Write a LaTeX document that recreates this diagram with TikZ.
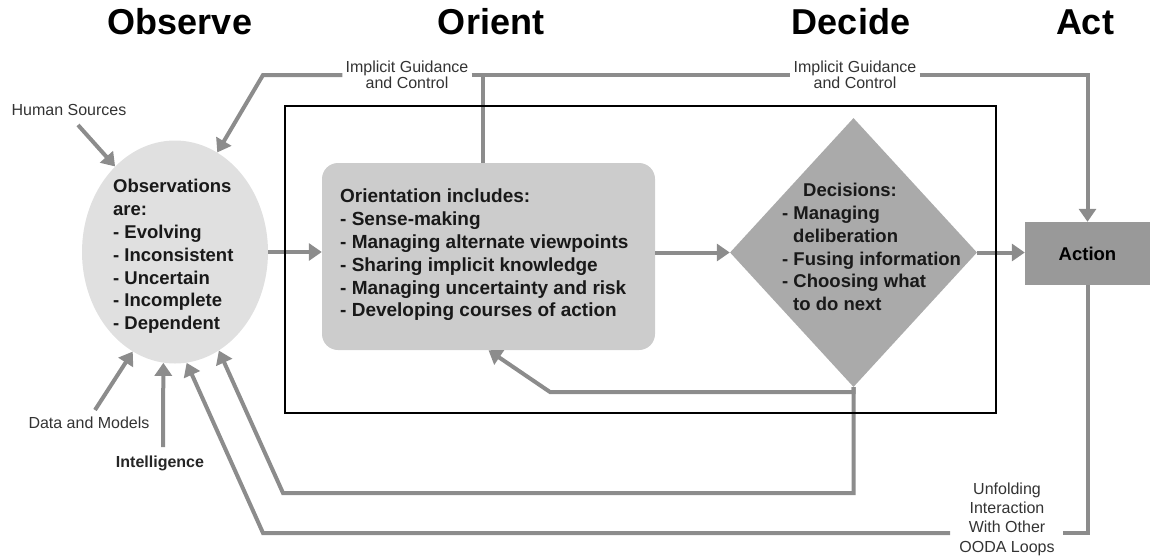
\documentclass[tikz,border=0pt]{standalone}
\usepackage{fontspec}
\setmainfont{Liberation Sans}
\usetikzlibrary{shapes.geometric,arrows.meta,calc}
\definecolor{arrgray}{HTML}{8C8C8C}
\definecolor{obsgray}{HTML}{E0E0E0}
\definecolor{origray}{HTML}{CCCCCC}
\definecolor{decgray}{HTML}{AAAAAA}
\definecolor{actgray}{HTML}{999999}
\definecolor{labgray}{HTML}{333333}
\tikzset{
  conn/.style={draw=arrgray, line width=4pt},
  arr/.style={conn, -{Triangle[length=13pt,width=17pt]}},
  title/.style={font=\bfseries\fontsize{36}{40}\selectfont, inner sep=0pt},
  small/.style={font=\fontsize{16}{16.5}\selectfont, text=labgray, align=center, inner sep=3pt},
  body/.style={font=\bfseries\fontsize{18.5}{22.8}\selectfont, align=left, inner sep=0pt, text=black!90},
}
\begin{document}
\begin{tikzpicture}[x=1pt,y=-1pt]
\useasboundingbox (0,0) rectangle (1154,558);

% titles
\node[title] (t1) at (180,22) {Observe};
\node[title] (t2) at (491,22) {Orient};
\node[title] (t3) at (851,22) {Decide};
\node[title] (t4) at (1085,22) {Act};

% main shapes
\node[ellipse, fill=obsgray, minimum width=186pt, minimum height=223pt, inner sep=0pt] (obs) at (175,252) {};
\node[rectangle, rounded corners=16pt, fill=origray, minimum width=333pt, minimum height=187pt, inner sep=0pt] (ori) at (488.5,256.5) {};
\node[diamond, fill=decgray, minimum width=247pt, minimum height=269pt, inner sep=0pt] (dec) at (853.5,252.5) {};
\node[rectangle, fill=actgray, minimum width=125pt, minimum height=63pt, inner sep=0pt,
      font=\bfseries\fontsize{18.5}{22}\selectfont] (act) at (1087.5,253.5) {Action};

% texts in shapes
\node[body, anchor=west] (obstxt) at (113,256.5) {Observations\\are:\\- Evolving\\- Inconsistent\\- Uncertain\\- Incomplete\\- Dependent};
\node[body, anchor=west, font=\bfseries\fontsize{19}{22.8}\selectfont] (oritxt) at (340,255) {Orientation includes:\\- Sense-making\\- Managing alternate viewpoints\\- Sharing implicit knowledge\\- Managing uncertainty and risk\\- Developing courses of action};
\node[body] (dectitle) at (850,190) {Decisions:};
\node[body, anchor=west] (dectxt) at (782,258.5) {- Managing\\\hspace*{11pt}deliberation\\- Fusing information\\- Choosing what\\\hspace*{11pt}to do next};

% outside labels
\node[small] (g1) at (407,75) {Implicit Guidance\\and Control};
\node[small] (g2) at (855,75) {Implicit Guidance\\and Control};
\node[small] (hs) at (69,110) {Human Sources};
\node[small] (dm) at (89,423) {Data and Models};
\node[small, font=\bfseries\fontsize{16}{18}\selectfont, text=black!85] (intel) at (160,463) {Intelligence};
\node[small, font=\fontsize{16}{19.3}\selectfont] (un) at (1007,519) {Unfolding\\Interaction\\With Other\\OODA Loops};

% helper coordinates
\coordinate (gl) at (263,75);
\coordinate (vj) at (483,75);
\coordinate (il) at (550,392);
\coordinate (fb) at (283,493);
\coordinate (gapR) at (1063,533);
\coordinate (gapL) at (950,533);
\coordinate (lp) at (263,533);
\coordinate (hsS) at (78,125);
\coordinate (dmN) at (95,410);
\coordinate (inN) at (163,447);

% connectors
\draw[arr] (obs.east) -- (obs.east -| ori.west);
\draw[arr] (ori.east |- dec.west) -- (dec.west);
\draw[arr] (dec.east) -- (dec.east -| act.west);

\draw[arr] (g1.west) -- (gl) -- (obs.67);
\draw[conn] (g1.east) -- (g2.west);
\draw[conn] (vj) -- (vj |- ori.north);
\draw[arr] (g2.east) -| (act.north);

\draw[arr] (hsS) -- (obs.125);
\draw[arr] (dmN) -- (obs.247);
\draw[arr] (inN) -- (obs.264);

\draw[arr] (dec.south) |- (il) -- (ori.south);
\draw[arr] (dec.south) |- (fb) -- (obs.294);
\draw[conn] (act.south) |- (gapR);
\draw[arr] (gapL) -- (lp) -- (obs.276);

% frame
\node[draw=black, line width=2.5pt, minimum width=711pt, minimum height=307pt, inner sep=0pt] (frame) at (640.5,259.5) {};
\end{tikzpicture}
\end{document}
